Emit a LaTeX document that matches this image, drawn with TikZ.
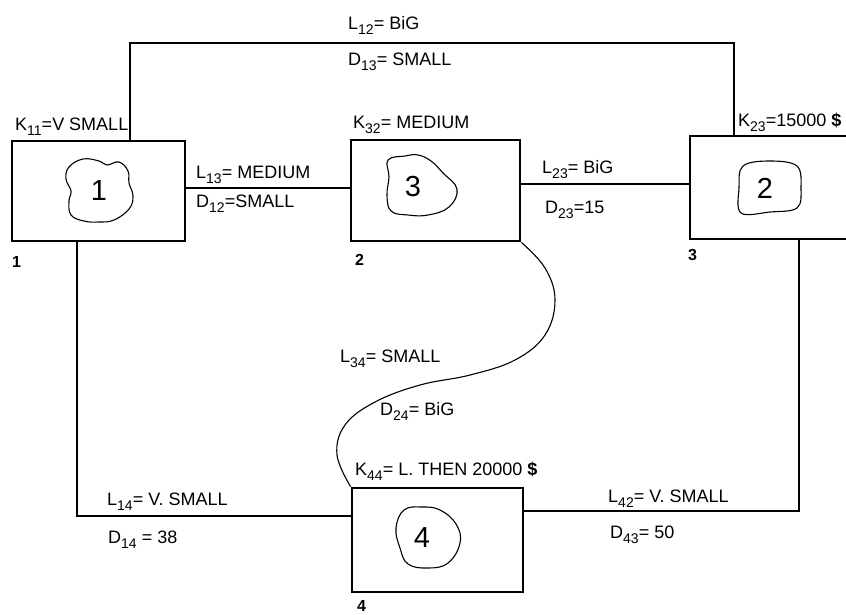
\documentclass[tikz,border=0pt]{standalone}
\usepackage{fontspec}
\setmainfont{Liberation Sans}
\newcommand\sbs[1]{\raisebox{-0.55ex}{\fontsize{14}{14}\selectfont #1}}
\begin{document}
\begin{tikzpicture}[x=1pt,y=-1pt,
  box/.style={draw,line width=2.8pt,inner sep=0pt},
  conn/.style={line width=1.1pt},
  blob/.style={line width=1.1pt},
  lbl/.style={anchor=base west,inner sep=0pt,font=\fontsize{18}{18}\selectfont},
  num/.style={inner sep=0pt,font=\fontsize{29}{29}\selectfont},
  corner/.style={anchor=base west,inner sep=0pt,font=\bfseries\fontsize{16}{16}\selectfont}]
\useasboundingbox (0,0) rectangle (846,614);
% boxes
\node[box,minimum width=173pt,minimum height=100pt] (b1) at (98.5,191) {};
\node[box,minimum width=169pt,minimum height=101pt] (b3) at (435.5,190.5) {};
\node[box,minimum width=168pt,minimum height=103pt] (b2) at (774,187.5) {};
\node[box,minimum width=171pt,minimum height=104pt] (b4) at (437.5,540) {};
% numbers in clouds
\node[num] (n1) at (99,191) {1};
\node[num] (n3) at (413,187) {3};
\node[num] (n2) at (765,188) {2};
\node[num] (n4) at (422,538) {4};
\begin{scope}[shift={(n1)}]
\draw[blob] plot[smooth cycle,tension=0.7] coordinates {(-30,-24) (-16,-32) (0,-30) (8,-26) (20,-29) (29,-20) (30,-8) (34,5) (30,18) (15,29) (0,31) (-15,30) (-28,24) (-30,10) (-28,0) (-33,-12)};
\end{scope}
\begin{scope}[shift={(n3)}]
\draw[blob] plot[smooth cycle,tension=0.7] coordinates {(-25,-27) (-8,-31) (5,-32) (18,-26) (30,-14) (44,2) (36,20) (15,28) (-5,28) (-22,24) (-26,8) (-24,-10)};
\end{scope}
\begin{scope}[shift={(n2)}]
\draw[blob] plot[smooth cycle,tension=0.6] coordinates {(-22,-22) (5,-27) (32,-22) (36,0) (32,20) (5,24) (-24,25) (-26,0)};
\end{scope}
\begin{scope}[shift={(n4)}]
\draw[blob] plot[smooth cycle,tension=0.7] coordinates {(-18,-28) (0,-31) (18,-28) (34,-14) (38,5) (26,25) (6,30) (-14,26) (-22,10) (-26,-10)};
\end{scope}
% connectors
\coordinate (t1) at (130,43);
\coordinate (t2) at (734,43);
\draw[conn] (b1.north -| t1) -- (t1) -- (t2) -- (b2.north -| t2);
\coordinate (m13) at (0,188);
\draw[conn] (b1.east |- m13) -- (b3.west |- m13);
\coordinate (m32) at (0,184);
\draw[conn] (b3.east |- m32) -- (b2.west |- m32);
\coordinate (c14) at (77,516);
\draw[conn] (b1.south -| c14) -- (c14) -- (b4.west |- c14);
\coordinate (c42) at (799,511);
\draw[conn] (b2.south -| c42) -- (c42) -- (b4.east |- c42);
\draw[conn] plot[smooth,tension=0.65] coordinates {(b3.south east) (545,268) (555,300) (545,335) (515,360) (470,375) (420,385) (375,402) (345,425) (337,455) (b4.north west)};
% labels
\node[lbl] (l12) at (348,29) {L\sbs{12}= BiG};
\node[lbl] (d13) at (348,65) {D\sbs{13}= SMALL};
\node[lbl] (k11) at (15,130) {K\sbs{11}=V SMALL};
\node[lbl] (l13) at (196,178) {L\sbs{13}= MEDIUM};
\node[lbl] (d12) at (196,207) {D\sbs{12}=SMALL};
\node[lbl] (k32) at (353,128) {K\sbs{32}= MEDIUM};
\node[lbl] (l23) at (542,173) {L\sbs{23}= BiG};
\node[lbl] (d23) at (545,213) {D\sbs{23}=15};
\node[lbl] (k23) at (738,126) {K\sbs{23}=15000 \textbf{\$}};
\node[lbl] (l34) at (340,362) {L\sbs{34}= SMALL};
\node[lbl] (d24) at (380,415) {D\sbs{24}= BiG};
\node[lbl] (k44) at (355,475) {K\sbs{44}= L. THEN 20000 \textbf{\$}};
\node[lbl] (l14) at (107,505) {L\sbs{14}= V. SMALL};
\node[lbl] (d14) at (108,543) {D\sbs{14} = 38};
\node[lbl] (l42) at (608,502) {L\sbs{42}= V. SMALL};
\node[lbl] (d43) at (610,538) {D\sbs{43}= 50};
\node[corner] (p1) at (12,267) {1};
\node[corner] (p2) at (355,265) {2};
\node[corner] (p3) at (688,260) {3};
\node[corner] (p4) at (357,611) {4};
\end{tikzpicture}
\end{document}
